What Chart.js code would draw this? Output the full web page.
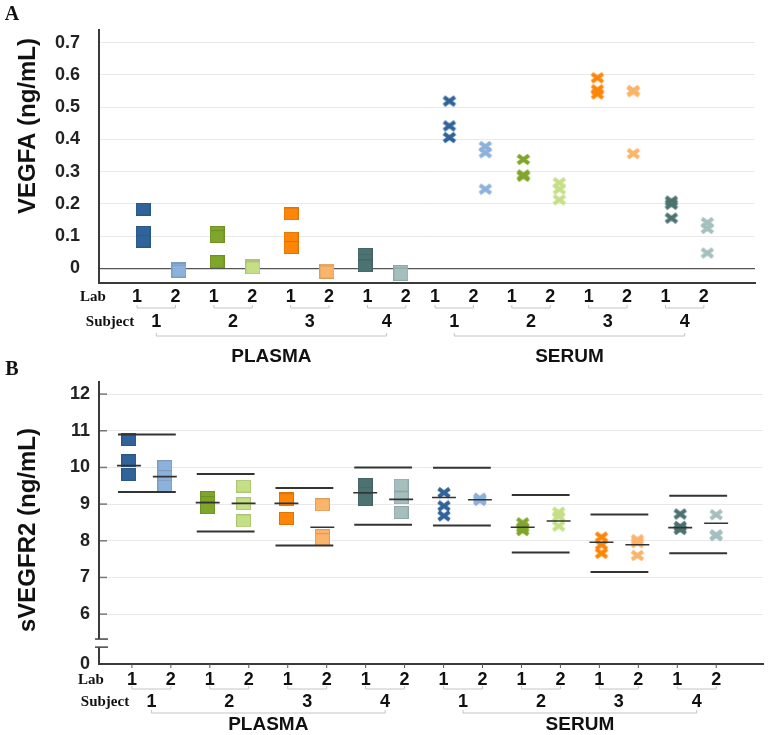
<!DOCTYPE html>
<html>
<head>
<meta charset="utf-8">
<script src="https://cdn.jsdelivr.net/npm/chart.js@4.4.1/dist/chart.umd.min.js"></script>
<style>
  html, body { margin: 0; padding: 0; background: #fff; }
  #wrap { position: relative; width: 771px; height: 735px; }
  #wrap canvas { position: absolute; left: 0; }
  #chartA { top: 0; }
  #chartB { top: 355px; }
</style>
</head>
<body>
<div id="wrap">
  <canvas id="chartA" width="771" height="372"></canvas>
  <canvas id="chartB" width="771" height="380"></canvas>
</div>
<script>
// Categories
const groups = ['PLASMA', 'SERUM'];
const subjects = ['1', '2', '3', '4'];
const labs = ['1', '2'];

// Panel A: VEGFA (ng/mL), three replicates per subject and lab
const vegfaPlasmaLab1 = [[0.184, 0.112, 0.085], [0.112, 0.099, 0.021], [0.169, 0.094, 0.065], [0.044, 0.026, 0.008]];
const vegfaPlasmaLab2 = [[0.000, -0.004, -0.008], [0.009, 0.005, 0.002], [-0.005, -0.008, -0.011], [-0.010, -0.014, -0.018]];
const vegfaSerumLab1 = [[0.519, 0.442, 0.406], [0.338, 0.290, 0.286], [0.591, 0.554, 0.541], [0.209, 0.199, 0.156]];
const vegfaSerumLab2 = [[0.378, 0.359, 0.246], [0.266, 0.246, 0.213], [0.552, 0.548, 0.356], [0.142, 0.124, 0.048]];
const vegfaTicks = [0, 0.1, 0.2, 0.3, 0.4, 0.5, 0.6, 0.7];

// Panel B: sVEGFR2 (ng/mL)
const svegfrPlasmaLab1 = [[10.76, 10.18, 9.81], [9.18, 9.04, 8.90], [9.15, 9.12, 8.61], [9.53, 9.30, 9.12]];
const svegfrPlasmaLab2 = [[10.02, 9.75, 9.49], [9.49, 9.01, 8.54], [8.98, 8.14, 8.03], [9.52, 9.17, 8.77]];
const svegfrSerumLab1 = [[9.31, 8.95, 8.68], [8.49, 8.36, 8.28], [8.10, 7.89, 7.66], [8.73, 8.39, 8.31]];
const svegfrSerumLab2 = [[9.16, 9.13, 9.10], [8.78, 8.66, 8.40], [8.03, 7.95, 7.60], [8.71, 8.16, 8.14]];
// short lines per lab
const svegfrPlasmaLab1Mean = [10.05, 9.04, 9.02, 9.31];
const svegfrPlasmaLab2Mean = [9.75, 9.02, 8.37, 9.13];
const svegfrSerumLab1Mean = [9.18, 8.37, 7.96, 8.36];
const svegfrSerumLab2Mean = [9.12, 8.54, 7.89, 8.48];
// long lines per subject
const svegfrPlasmaUpper = [10.90, 9.82, 9.44, 10.00];
const svegfrPlasmaLower = [9.33, 8.25, 7.87, 8.44];
const svegfrSerumUpper = [9.99, 9.25, 8.72, 9.23];
const svegfrSerumLower = [8.42, 7.68, 7.15, 7.66];
const svegfrTicks = [6, 7, 8, 9, 10, 11, 12];

const colors = {
    lab1: ['#2f6399', '#7fa62a', '#fd8508', '#4d7272'],
    lab2: ['#8cb1da', '#c5df86', '#fbb46a', '#a5bfbf']
};

Chart.defaults.font.family = '"Liberation Sans", Arial, sans-serif';

// Marker images
function makeSquare(color) {
    const c = document.createElement('canvas');
    c.width = 15; c.height = 13;
    const g = c.getContext('2d');
    g.fillStyle = color;
    g.fillRect(0, 0, 15, 13);
    g.strokeStyle = 'rgba(0,0,0,0.12)';
    g.strokeRect(0.5, 0.5, 14, 12);
    return c;
}
function makeCross(color) {
    const c = document.createElement('canvas');
    c.width = 16; c.height = 13;
    const g = c.getContext('2d');
    g.strokeStyle = color;
    g.lineWidth = 4;
    g.beginPath();
    g.moveTo(2.5, 2.3); g.lineTo(13.5, 10.7);
    g.moveTo(13.5, 2.3); g.lineTo(2.5, 10.7);
    g.stroke();
    return c;
}
const imgs = [makeSquare, makeCross].map(fn => [colors.lab1.map(fn), colors.lab2.map(fn)]);

// series[g][l][s] -> list of points
function buildMarkers(series, xOf) {
    const pts = [];
    series.forEach((byLab, g) => byLab.forEach((bySubj, l) => bySubj.forEach((vals, s) =>
        vals.forEach(v => pts.push({ x: xOf(g, s, l), y: v, g, l, s })))));
    return pts;
}
function markerDataset(series, xOf) {
    return {
        type: 'scatter',
        data: buildMarkers(series, xOf),
        pointStyle: ctx => imgs[ctx.raw.g][ctx.raw.l][ctx.raw.s],
        pointRadius: 7,
        order: 2
    };
}
// segments with null breaks
function segDataset(values, xFrom, width, lineWidth, order) {
    const data = [];
    values.forEach((arr, g) => arr.forEach((v, s) => {
        const c = xFrom(g, s);
        data.push({ x: c - width, y: v }, { x: c + width, y: v }, { x: c, y: null });
    }));
    return {
        type: 'line', data, borderColor: '#333', borderWidth: lineWidth,
        pointRadius: 0, spanGaps: false, fill: false, order
    };
}

function makeAnnot(cfg) {
    return {
        id: 'annot' + cfg.letter,
        afterDraw(chart) {
            const { ctx, chartArea, scales: { x, y } } = chart;
            const r = cfg.rows;
            ctx.save();
            ctx.fillStyle = '#111';
            ctx.textAlign = 'center';
            ctx.textBaseline = 'middle';

            ctx.font = 'bold 20px "Liberation Serif", serif';
            ctx.fillText(cfg.letter, cfg.letterPos[0], cfg.letterPos[1]);

            ctx.save();
            ctx.translate(cfg.titlePos[0], cfg.titlePos[1]);
            ctx.rotate(-Math.PI / 2);
            ctx.font = 'bold 24px "Liberation Sans", Arial, sans-serif';
            ctx.fillText(cfg.title, 0, 0);
            ctx.restore();

            ctx.font = 'bold 15px "Liberation Serif", serif';
            ctx.fillText('Lab', r.labWordX, r.labY);
            ctx.fillText('Subject', r.subjWordX, r.subjY);

            ctx.strokeStyle = '#c4c4c4';
            ctx.lineWidth = 1;
            const bracket = (x1, x2, yy) => {
                ctx.beginPath();
                ctx.moveTo(x1, yy - 3); ctx.lineTo(x1, yy); ctx.lineTo(x2, yy); ctx.lineTo(x2, yy - 3);
                ctx.stroke();
            };
            const groupPx = [];
            groups.forEach((grp, g) => {
                const subjPx = [];
                subjects.forEach((sub, s) => {
                    const px = labs.map((lab, l) => x.getPixelForValue(cfg.labX(g, s, l)));
                    ctx.font = 'bold 18px "Liberation Sans", Arial, sans-serif';
                    labs.forEach((lab, l) => ctx.fillText(lab, px[l], r.labY));
                    bracket(px[0], px[1], r.pairY);
                    const mid = (px[0] + px[1]) / 2;
                    subjPx.push(mid);
                    ctx.fillText(sub, mid, r.subjY);
                    if (cfg.axisTicks) {
                        ctx.save();
                        ctx.strokeStyle = '#555';
                        px.forEach(p => {
                            ctx.beginPath();
                            ctx.moveTo(p, chartArea.bottom); ctx.lineTo(p, chartArea.bottom + 4);
                            ctx.stroke();
                        });
                        ctx.restore();
                    }
                });
                bracket(subjPx[0], subjPx[3], r.groupY);
                groupPx.push((subjPx[0] + subjPx[3]) / 2);
            });
            ctx.font = 'bold 19px "Liberation Sans", Arial, sans-serif';
            groups.forEach((grp, g) => ctx.fillText(grp, groupPx[g], r.groupLabelY));

            if (cfg.axisBreak) {
                const p1 = y.getPixelForValue(cfg.axisBreak[1]);
                const p2 = y.getPixelForValue(cfg.axisBreak[0]);
                ctx.fillStyle = '#fff';
                ctx.fillRect(chartArea.left - 3, p1, 6, p2 - p1);
                ctx.strokeStyle = '#444';
                ctx.lineWidth = 1.5;
                [p1, p2].forEach(p => {
                    ctx.beginPath();
                    ctx.moveTo(chartArea.left - 4, p); ctx.lineTo(chartArea.left + 9, p);
                    ctx.stroke();
                });
                ctx.strokeStyle = '#777';
                y.ticks.filter(t => t.value >= 6).forEach(t => {
                    const p = y.getPixelForValue(t.value);
                    ctx.beginPath();
                    ctx.moveTo(chartArea.left + 1, p); ctx.lineTo(chartArea.left + 8, p);
                    ctx.stroke();
                });
            }
            ctx.restore();
        }
    };
}

const tickFont = { size: 18, weight: 'bold' };

// ---- Panel A ----
const xA = (g, s, l) => g * 4.14 + s + (l ? 0.243 : -0.243);
new Chart(document.getElementById('chartA'), {
    type: 'scatter',
    data: {
        datasets: [markerDataset([[vegfaPlasmaLab1, vegfaPlasmaLab2], [vegfaSerumLab1, vegfaSerumLab2]], xA)]
    },
    options: {
        responsive: false,
        animation: false,
        layout: { padding: { top: 5, right: 16, left: 0, bottom: 0 } },
        plugins: { legend: { display: false }, tooltip: { enabled: false } },
        scales: {
            x: {
                type: 'linear', min: -0.838, max: 8.027,
                ticks: { display: false }, grid: { display: false },
                border: { color: '#3a3a3a', width: 2 },
                afterFit: s => { s.height = 89; }
            },
            y: {
                min: -0.045, max: 0.74,
                afterBuildTicks: s => { s.ticks = vegfaTicks.map(v => ({ value: v })); },
                ticks: { padding: 19, color: '#222', font: tickFont, callback: v => v === 0 ? '0' : v.toFixed(1) },
                grid: {
                    drawTicks: false,
                    color: c => c.tick && c.tick.value === 0 ? '#555' : '#e9e9e9',
                    lineWidth: c => c.tick && c.tick.value === 0 ? 1.3 : 1
                },
                border: { color: '#3a3a3a', width: 2 },
                afterFit: s => { s.width = 99; }
            }
        }
    },
    plugins: [makeAnnot({
        letter: 'A', letterPos: [12, 15],
        title: 'VEGFA (ng/mL)', titlePos: [28, 126],
        labX: (g, s, l) => [-0.324, 3.703][g] + (2 * s + l) * 0.519,
        rows: { labWordX: 93, subjWordX: 110, labY: 297, pairY: 308, subjY: 322, groupY: 336, groupLabelY: 357 }
    })]
});

// ---- Panel B ----
const xB = (g, s, l) => g * 4 + s + (l ? 0.228 : -0.228);
const centerB = (g, s) => g * 4 + s;
new Chart(document.getElementById('chartB'), {
    type: 'scatter',
    data: {
        datasets: [
            segDataset([svegfrPlasmaUpper, svegfrSerumUpper], centerB, 0.367, 2, 0),
            segDataset([svegfrPlasmaLower, svegfrSerumLower], centerB, 0.367, 2, 0),
            segDataset([svegfrPlasmaLab1Mean, svegfrSerumLab1Mean], (g, s) => xB(g, s, 0), 0.152, 1.6, 1),
            segDataset([svegfrPlasmaLab2Mean, svegfrSerumLab2Mean], (g, s) => xB(g, s, 1), 0.152, 1.6, 1),
            markerDataset([[svegfrPlasmaLab1, svegfrPlasmaLab2], [svegfrSerumLab1, svegfrSerumLab2]], xB)
        ]
    },
    options: {
        responsive: false,
        animation: false,
        layout: { padding: { top: 27, right: 6, left: 0, bottom: 0 } },
        plugins: { legend: { display: false }, tooltip: { enabled: false } },
        scales: {
            x: {
                type: 'linear', min: -0.608, max: 7.823,
                ticks: { display: false }, grid: { display: false },
                border: { color: '#3a3a3a', width: 2 },
                afterFit: s => { s.height = 71; }
            },
            y: {
                min: 4.64, max: 12.33,
                afterBuildTicks: s => { s.ticks = [{ value: s.min }].concat(svegfrTicks.map(v => ({ value: v }))); },
                ticks: { padding: 9, color: '#222', font: tickFont, callback: v => v < 5 ? '0' : String(v) },
                grid: {
                    drawTicks: false,
                    color: c => c.tick && c.tick.value < 5 ? 'rgba(0,0,0,0)' : '#e9e9e9'
                },
                border: { color: '#3a3a3a', width: 2 },
                afterFit: s => { s.width = 99; }
            }
        }
    },
    plugins: [makeAnnot({
        letter: 'B', letterPos: [12, 15],
        title: 'sVEGFR2 (ng/mL)', titlePos: [28, 175],
        labX: (g, s, l) => [-0.19, 3.767][g] + (2 * s + l) * 0.4946,
        axisTicks: true,
        axisBreak: [5.1, 5.32],
        rows: { labWordX: 91, subjWordX: 105, labY: 325, pairY: 334, subjY: 347, groupY: 358, groupLabelY: 370 }
    })]
});
</script>
</body>
</html>
